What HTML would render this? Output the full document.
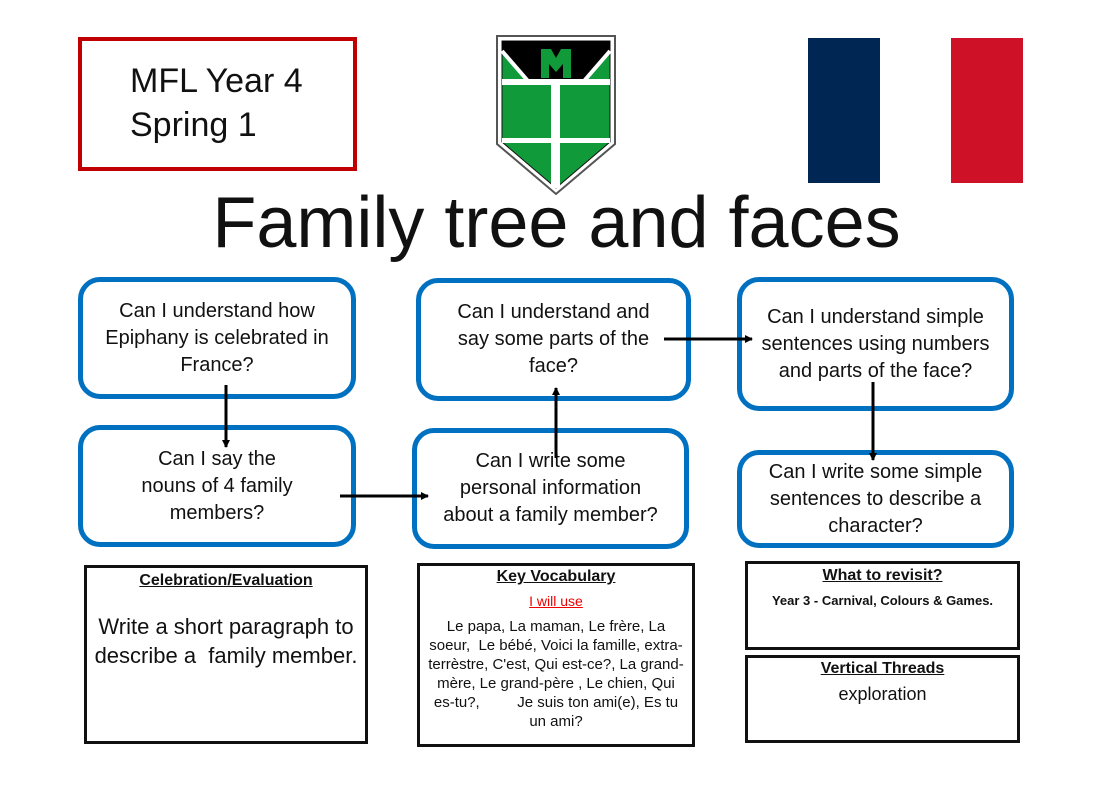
<!DOCTYPE html>
<html><head><meta charset="utf-8"><style>
body{margin:0;width:1113px;height:785px;background:#fff;position:relative;overflow:hidden;font-family:"Liberation Sans",sans-serif;color:#111}
.a{position:absolute;box-sizing:border-box}
.b{border:5px solid #0070c0;border-radius:22px;display:flex;align-items:center;justify-content:center;text-align:center;font-size:20px;line-height:27px;padding:0 18px}
.k{border:3px solid #111;text-align:center}
.h{font-weight:bold;text-decoration:underline;font-size:16px}
</style></head><body>
<div class="a" style="left:78px;top:37px;width:279px;height:134px;border:4px solid #c00000;font-size:34px;line-height:44px;padding:18px 0 0 48px">MFL Year 4<br>Spring 1</div>
<svg class="a" style="left:495px;top:34px" width="122" height="163" viewBox="0 0 122 163">
<path d="M2 2H120V110L61 160L2 110Z" fill="#fff" stroke="#555" stroke-width="2"/>
<path d="M7 7H115V108L61 154L7 108Z" fill="#109a3a" stroke="#111" stroke-width="1"/>
<path d="M7 7H115V17L91 47H31L7 17Z" fill="#000"/>
<path d="M7 17L33 47M115 17L89 47" stroke="#fff" stroke-width="4"/>
<path d="M46 15H56L61 24L66 15H76V44H68V30L61 38L54 30V44H46Z" fill="#109a3a"/>
<rect x="7" y="45" width="108" height="6" fill="#fff"/>
<rect x="56" y="51" width="9" height="103" fill="#fff"/>
<rect x="7" y="104" width="108" height="5" fill="#fff"/>
</svg>
<div class="a" style="left:808px;top:38px;width:72px;height:145px;background:#002654"></div>
<div class="a" style="left:880px;top:38px;width:71px;height:145px;background:#fff"></div>
<div class="a" style="left:951px;top:38px;width:72px;height:145px;background:#ce1126"></div>
<div class="a" style="left:0;top:178px;width:1113px;text-align:center;font-size:72px;line-height:90px">Family tree and faces</div>

<div class="a b" style="left:78px;top:277px;width:278px;height:122px">Can I understand how Epiphany is celebrated in France?</div>
<div class="a b" style="left:416px;top:278px;width:275px;height:123px">Can I understand and say some parts of the face?</div>
<div class="a b" style="left:737px;top:277px;width:277px;height:134px">Can I understand simple sentences using numbers and parts of the face?</div>
<div class="a b" style="left:78px;top:425px;width:278px;height:122px;padding:0 55px">Can I say the nouns of 4 family members?</div>
<div class="a b" style="left:412px;top:428px;width:277px;height:121px">Can I write some personal information about a family member?</div>
<div class="a b" style="left:737px;top:450px;width:277px;height:98px">Can I write some simple sentences to describe a character?</div>

<svg class="a" style="left:0;top:0" width="1113" height="785">
<defs><marker id="m" markerWidth="8" markerHeight="8" refX="7" refY="4" orient="auto" markerUnits="userSpaceOnUse"><path d="M0 0L8 4L0 8Z" fill="#000"/></marker></defs>
<g stroke="#000" stroke-width="3" marker-end="url(#m)">
<line x1="226" y1="385" x2="226" y2="447"/>
<line x1="340" y1="496" x2="428" y2="496"/>
<line x1="556" y1="458" x2="556" y2="388"/>
<line x1="664" y1="339" x2="752" y2="339"/>
<line x1="873" y1="382" x2="873" y2="460"/>
</g></svg>

<div class="a k" style="left:84px;top:565px;width:284px;height:179px;padding-top:4px"><div class="h">Celebration/Evaluation</div><div style="font-size:22px;line-height:29px;margin-top:22px">Write a short paragraph to describe a &nbsp;family member.</div></div>
<div class="a k" style="left:417px;top:563px;width:278px;height:184px;padding:2px 6px 0"><div class="h">Key Vocabulary</div><div style="color:#e00;font-size:14px;text-decoration:underline;margin-top:7px">I will use</div><div style="font-size:15px;line-height:19px;margin-top:8px">Le papa, La maman, Le frère, La soeur, &nbsp;Le bébé, Voici la famille, extra-terrèstre, C'est, Qui est-ce?, La grand-mère, Le grand-père , Le chien, Qui es-tu?, &nbsp;&nbsp;&nbsp;&nbsp;&nbsp;&nbsp;&nbsp; Je suis ton ami(e), Es tu un ami?</div></div>
<div class="a k" style="left:745px;top:561px;width:275px;height:89px;padding-top:3px"><div class="h">What to revisit?</div><div style="font-size:13px;font-weight:bold;margin-top:8px">Year 3 - Carnival, Colours &amp; Games.</div></div>
<div class="a k" style="left:745px;top:655px;width:275px;height:88px;padding-top:2px"><div class="h">Vertical Threads</div><div style="font-size:18px;margin-top:6px">exploration</div></div>
</body></html>
